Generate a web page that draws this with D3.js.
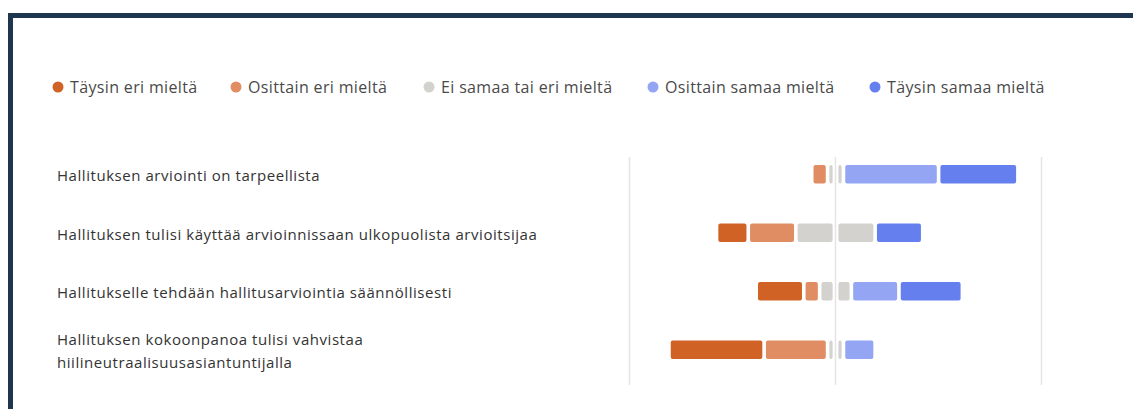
<!DOCTYPE html>
<html>
<head>
<meta charset="utf-8">
<script src="https://cdn.jsdelivr.net/npm/d3@7"></script>
<style>
  html, body { margin: 0; padding: 0; background: #fff; }
  svg { display: block; font-family: "Segoe UI", "Open Sans", sans-serif; }
</style>
</head>
<body>
<script>
// Kysymykset (rivit), "\n" = rivinvaihto kuten kuvassa
var categories = [
  "Hallituksen arviointi on tarpeellista",
  "Hallituksen tulisi käyttää arvioinnissaan ulkopuolista arvioitsijaa",
  "Hallitukselle tehdään hallitusarviointia säännöllisesti",
  "Hallituksen kokoonpanoa tulisi vahvistaa\nhiilineutraalisuusasiantuntijalla"
];

var levels = ["Täysin eri mieltä", "Osittain eri mieltä", "Ei samaa tai eri mieltä",
              "Osittain samaa mieltä", "Täysin samaa mieltä"];

// osuudet prosentteina, yksi arvo per kysymys
var taysinEri     = [0,    15.4, 23.1, 46.2];
var osittainEri   = [7.7,  23.1,  7.7, 30.8];
var neutraali     = [7.7,  38.5, 15.4,  7.7];
var osittainSamaa = [46.2,  0,   23.1, 15.4];
var taysinSamaa   = [38.5, 23.1, 30.8,  0];

var colors = ["#d06226", "#e08d63", "#d3d2cf", "#94a6f3", "#667fef"];

var width = 1133, height = 409;

var svg = d3.select("body").append("svg")
    .attr("width", width)
    .attr("height", height);

// kehys
svg.append("rect")
   .attr("x", 10.5)
   .attr("y", 15.5)
   .attr("width", 1200)
   .attr("height", 500)
   .attr("fill", "none")
   .attr("stroke", "#1f3651")
   .attr("stroke-width", 5);

// Legend
var legendX = [58, 236, 429, 653, 875];
var legend = svg.append("g").selectAll("g")
    .data(levels)
    .enter()
    .append("g")
    .attr("transform", function(d, i){ return "translate(" + legendX[i] + ",87)"; });

legend.append("circle")
      .attr("r", 5.5)
      .attr("fill", function(d, i){ return colors[i]; });

legend.append("text")
      .attr("x", 12)
      .attr("dy", "0.35em")
      .attr("font-size", 16)
      .attr("letter-spacing", 0.35)
      .attr("fill", "#4a4a4a")
      .text(function(d){ return d; });

// scales
var x = d3.scaleLinear().domain([-100, 100]).range([629.5, 1041.5]);
var y = d3.scaleBand().domain(d3.range(categories.length)).range([145, 379]);

// gridlines
svg.append("g").selectAll("line")
   .data(x.ticks(2))
   .enter()
   .append("line")
   .attr("x1", function(d){ return x(d); })
   .attr("x2", function(d){ return x(d); })
   .attr("y1", 157)
   .attr("y2", 385)
   .attr("stroke", "#e4e4e4")
   .attr("stroke-width", 1.5);

// category labels
var labels = svg.append("g").selectAll("text")
    .data(categories)
    .enter()
    .append("text")
    .attr("x", 57)
    .attr("font-size", 15)
    .attr("letter-spacing", 0.55)
    .attr("fill", "#333");

labels.each(function(d, i){
    var lines = d.split("\n");
    var t = d3.select(this);
    var cy = y(i) + y.bandwidth() / 2 + 1.5;
    lines.forEach(function(line, j){
        t.append("tspan")
         .attr("x", 57)
         .attr("y", cy + (j - (lines.length - 1) / 2) * 23)
         .attr("dy", "0.35em")
         .text(line);
    });
});

// segments: rakennetaan pinot keskikohdan ympärille
var series = [taysinEri, osittainEri, neutraali, osittainSamaa, taysinSamaa];
var segs = [];
categories.forEach(function(c, i){
    var start = -(taysinEri[i] + osittainEri[i] + neutraali[i] / 2);
    series.forEach(function(s, k){
        var v = s[i];
        if (v <= 0) { start += v; return; }
        if (k == 2) {
            // neutraali jaetaan kahtia keskiviivan kohdalla
            segs.push({row: i, k: k, x0: start, x1: 0, mid: "right"});
            segs.push({row: i, k: k, x0: 0, x1: start + v, mid: "left"});
        } else {
            segs.push({row: i, k: k, x0: start, x1: start + v});
        }
        start += v;
    });
});

var barH = 18.5;
svg.append("g").selectAll("rect")
   .data(segs)
   .enter()
   .append("rect")
   .attr("x", function(d){ return x(d.x0) + (d.mid == "left" ? 2.9 : 1.8); })
   .attr("width", function(d){
       var l = x(d.x0) + (d.mid == "left" ? 2.9 : 1.8);
       var r = x(d.x1) - (d.mid == "right" ? 2.9 : 1.8);
       return Math.max(0, r - l);
   })
   .attr("y", function(d){ return y(d.row) + y.bandwidth() / 2 - barH / 2; })
   .attr("height", barH)
   .attr("rx", 2)
   .attr("fill", function(d){ return colors[d.k]; });
</script>
</body>
</html>
